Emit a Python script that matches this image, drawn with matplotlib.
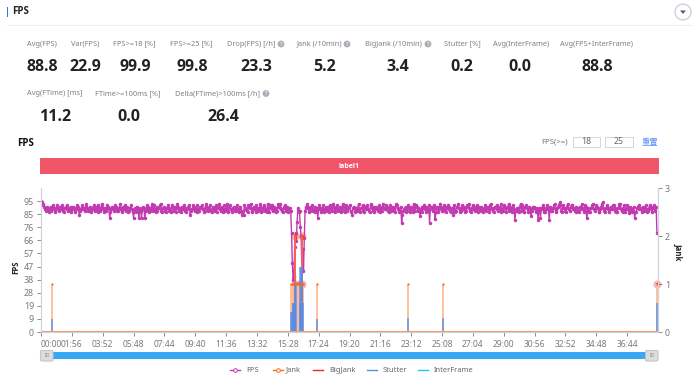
import numpy as np
import matplotlib
matplotlib.use('Agg')
import matplotlib.pyplot as plt
from matplotlib.patches import Rectangle, Circle, FancyBboxPatch, Polygon

plt.rcParams['font.family'] = ['Noto Sans', 'Noto Sans CJK SC', 'DejaVu Sans']
BOLD = ['Open Sans', 'DejaVu Sans']

# kpi rows
row1_names = ['Avg(FPS)', 'Var(FPS)', 'FPS>=18 [%]', 'FPS>=25 [%]', 'Drop(FPS) [/h]', 'Jank (/10min)',
              'BigJank (/10min)', 'Stutter [%]', 'Avg(InterFrame)', 'Avg(FPS+InterFrame)']
row1_values = ['88.8', '22.9', '99.9', '99.8', '23.3', '5.2', '3.4', '0.2', '0.0', '88.8']
row2_names = ['Avg(FTime) [ms]', 'FTime>=100ms [%]', 'Delta(FTime)>100ms [/h]']
row2_values = ['11.2', '0.0', '26.4']

# fps, one sample every 3 s
fps = [95,94,93,92,91,89,88,90,91,89,87,90,91,88,89,92,90,88,87,90,92,89,90,88,91,89,92,90,88,87,90,91,89,92,88,90,89,91,87,89,
       91,90,88,87,90,92,91,89,85,88,89,91,92,89,90,88,91,93,90,88,89,91,88,87,90,89,92,90,88,91,89,87,92,90,88,89,93,91,90,87,
       90,89,88,92,91,90,83,87,89,91,90,88,89,92,91,88,90,88,89,93,90,87,88,91,89,92,90,88,91,87,88,90,90,92,89,87,83,88,90,87,
       91,89,88,83,90,88,83,89,91,90,83,88,89,92,91,87,88,90,89,93,90,88,92,89,87,91,88,90,90,92,93,88,87,90,91,89,88,87,90,92,
       90,88,89,87,92,91,88,90,91,87,90,93,91,88,88,90,87,91,89,92,90,88,87,89,91,90,92,85,88,89,90,92,91,88,90,87,92,89,88,91,
       90,91,92,89,87,88,90,93,91,88,89,90,92,88,87,90,91,89,88,92,87,91,90,93,89,88,91,90,87,92,88,89,90,93,87,88,91,92,89,87,
       89,90,91,88,88,90,92,89,87,91,90,88,85,88,85,92,89,90,88,87,92,91,90,93,88,87,90,91,89,87,92,90,88,89,91,93,87,88,90,92,
       91,88,89,87,93,90,87,92,90,89,92,88,91,89,87,90,88,93,91,90,93,89,88,87,90,91,92,88,91,89,87,90,90,88,72,50,38,41,62,72,
       66,80,90,87,88,76,70,44,60,44,68,88,91,90,93,91,87,88,91,90,92,88,89,91,87,88,90,83,89,92,90,87,90,88,92,87,89,91,88,90,
       91,87,92,89,90,88,93,91,87,89,90,92,88,90,89,91,87,88,93,90,91,87,92,89,88,90,91,92,87,88,85,90,91,89,87,90,88,90,93,88,
       87,90,90,92,88,87,91,89,92,90,89,88,87,92,93,90,88,91,87,89,91,90,89,88,92,87,90,88,91,93,90,89,89,92,91,88,87,90,92,88,
       89,91,88,90,87,93,92,89,90,87,88,91,79,85,88,89,90,91,87,88,92,90,89,87,91,90,87,93,90,88,92,91,88,90,89,84,88,91,87,90,
       92,89,91,87,90,88,92,79,89,91,90,88,92,90,82,87,91,90,87,89,93,91,90,88,88,92,89,91,87,90,92,89,91,88,87,90,90,85,92,87,
       88,91,91,93,90,87,88,90,92,89,91,87,90,88,92,91,93,90,88,87,90,92,89,91,88,89,92,90,87,91,89,88,91,90,87,89,90,92,88,90,
       91,89,87,92,93,89,90,88,87,91,90,92,89,88,91,90,87,93,89,88,92,90,91,87,90,90,93,88,91,89,87,90,92,89,81,88,88,90,90,87,
       91,93,88,92,90,87,87,91,92,90,89,87,91,90,84,88,89,91,91,90,87,89,90,81,88,90,83,89,90,92,87,90,87,89,92,90,89,81,91,88,
       88,90,90,92,93,88,87,90,91,92,94,92,88,87,92,90,90,88,87,91,93,90,89,88,91,92,92,89,90,88,87,91,90,88,87,91,91,89,93,90,
       88,87,92,91,83,88,90,87,87,90,91,92,93,89,88,90,92,91,90,87,87,89,91,93,94,90,88,87,90,91,92,89,87,90,91,89,89,92,92,88,
       90,87,87,90,91,93,93,89,88,87,90,92,87,89,92,91,89,86,91,88,90,87,88,91,83,87,87,90,91,92,89,90,89,87,91,90,88,90,92,89,
       87,88,90,92,91,89,87,90,92,88,90,91,72]
fps_step = 3

# events, seconds from start, jank axis units
jank_t = [41, 940, 943, 946, 949, 952, 955, 963, 966, 969, 972, 975, 978, 981, 984, 987, 1038, 1380, 1511, 2318]
jank_v = [1, 1, 1, 1, 1, 1, 2, 1, 1, 1, 1, 1, 1, 2, 1, 1, 1, 1, 1, 1]
bigjank_t = [955, 981]
bigjank_v = [2, 2]
stutter_t = [41, 940, 943, 946, 949, 952, 955, 958, 972, 975, 978, 981, 984, 1038, 1380, 1511, 2318]
stutter_v = [0.27, 0.42, 0.42, 0.6, 0.6, 0.6, 1.0, 1.0, 0.6, 1.35, 1.35, 1.35, 0.6, 0.27, 0.3, 0.3, 0.6]
emph_t = [955, 955, 970, 981, 981, 2318]
emph_v = [2, 1, 1, 1, 2, 1]

x_ticks = [0, 116, 232, 348, 464, 580, 696, 812, 928, 1044, 1160, 1276, 1392, 1508, 1624, 1740, 1856, 1972, 2088, 2204]
x_labels = ['00:00', '01:56', '03:52', '05:48', '07:44', '09:40', '11:36', '13:32', '15:28', '17:24',
            '19:20', '21:16', '23:12', '25:08', '27:04', '29:00', '30:56', '32:52', '34:48', '36:44']
y_ticks = [0, 9.5, 19, 28.5, 38, 47.5, 57, 66.5, 76, 85.5, 95]
y_labels = ['0', '9', '19', '28', '38', '47', '57', '66', '76', '85', '95']

legend_names = ['FPS', 'Jank', 'BigJank', 'Stutter', 'InterFrame']

C_FPS = '#c23ab0'
C_JANK = '#ff6a1a'
C_BIG = '#e8262d'
C_STUT = '#4f8ff0'
C_INTER = '#1fc8e8'
C_LAB = '#808080'
C_TICK = '#7a7a7a'
C_AXIS = '#ccd4e0'

W, H = 700, 377
fig = plt.figure(figsize=(7, 3.77), dpi=100)

# page furniture in pixel coords
bg = fig.add_axes([0, 0, 1, 1])
bg.set_xlim(0, W)
bg.set_ylim(H, 0)
bg.axis('off')

bg.add_patch(Rectangle((6.5, 7), 1.3, 9.5, color='#3b6ff0', lw=0))
bg.text(12, 12, 'FPS', fontsize=7, fontweight='bold', family=BOLD, color='#222222', va='center')
bg.plot([7, 691], [25, 25], color='#eeeeee', lw=0.8)
bg.add_patch(Circle((683, 12), 8, fc='white', ec='#c4c6d4', lw=0.8))
bg.add_patch(Polygon([[680, 10.5], [686, 10.5], [683, 13.8]], color='#555566', lw=0))

row1_label_x = [27, 71, 113, 170, 227, 297, 365, 444, 493, 560]
row1_value_x = [42, 85, 135, 192, 256, 325, 398, 462, 520, 597]
for name, val, lx, vx in zip(row1_names, row1_values, row1_label_x, row1_value_x):
    bg.text(lx, 44, name, fontsize=5.3, color=C_LAB, va='center')
    bg.text(vx, 67, val, fontsize=11.5, fontweight='bold', family=BOLD, color='#222222', va='center', ha='center')

row2_label_x = [27, 95, 175]
row2_value_x = [55, 129, 223]
for name, val, lx, vx in zip(row2_names, row2_values, row2_label_x, row2_value_x):
    bg.text(lx, 93.5, name, fontsize=5.3, color=C_LAB, va='center')
    bg.text(vx, 117, val, fontsize=11.5, fontweight='bold', family=BOLD, color='#222222', va='center', ha='center')

for hx, hy in [(281, 44), (347, 44), (428, 44), (266, 93.5)]:
    bg.add_patch(Circle((hx, hy), 3.4, color='#a9afb8', lw=0))
    bg.text(hx, hy, '?', fontsize=4.2, fontweight='bold', color='white', ha='center', va='center')

bg.text(17, 144, 'FPS', fontsize=7, fontweight='bold', family=BOLD, color='#111111', va='center')
bg.text(541, 142, 'FPS(>=)', fontsize=5.6, color='#777777', va='center')
for bx, bw, txt in [(573, 27, '18'), (605, 28, '25')]:
    bg.add_patch(Rectangle((bx, 136.5), bw, 10, fc='white', ec='#d3d6dc', lw=0.7))
    bg.text(bx + bw / 2, 142, txt, fontsize=6.3, color='#666666', ha='center', va='center')
bg.text(650, 142, '重置', fontsize=6, color='#5b8ff9', ha='center', va='center')

bg.add_patch(Rectangle((40, 158), 618.5, 16, color='#f05667', lw=0))
bg.text(349, 166, 'label1', fontsize=5, color='white', ha='center', va='center', fontweight='bold', family=BOLD)

bg.text(16, 267, 'FPS', fontsize=5.6, fontweight='bold', family=BOLD, color='#222222', rotation=90, ha='center', va='center')
bg.text(678, 252, 'Jank', fontsize=5.6, fontweight='bold', family=BOLD, color='#222222', rotation=270, ha='center', va='center')

# slider
bg.add_patch(Rectangle((41, 351.5), 617, 7.5, color='#38a8f5', lw=0))
for sx in [41, 646]:
    bg.add_patch(FancyBboxPatch((sx, 351), 11.5, 9.5, boxstyle='round,pad=0.6,rounding_size=1.5',
                                fc='#dcdcdc', ec='#bdbdbd', lw=0.6))
    bg.text(sx + 6, 355.8, 'III', fontsize=3.5, color='#888888', ha='center', va='center')

# legend
leg_line_x = [230, 273, 313, 367, 418]
leg_text_x = [246, 286, 329, 383, 434]
leg_cols = [C_FPS, C_JANK, C_BIG, C_STUT, C_INTER]
for name, lx, tx, col in zip(legend_names, leg_line_x, leg_text_x, leg_cols):
    bg.plot([lx, lx + 10], [370, 370], color=col, lw=1)
    if name in ('FPS', 'Jank'):
        bg.plot(lx + 5, 370, 'o', ms=2.6, mfc='white', mec=col, mew=0.7)
    bg.text(tx, 370, name, fontsize=5.4, color='#666666', va='center')

# chart
ax = fig.add_axes([41 / W, (H - 332) / H, 617 / W, 144 / H], facecolor='none')
ax2 = ax.twinx()
ax.set_xlim(0, 2320)
ax.set_ylim(0, 104.5)
ax2.set_ylim(0, 3)
ax.set_zorder(3)

ax.set_xticks(x_ticks)
ax.set_xticklabels(x_labels)
ax.set_yticks(y_ticks)
ax.set_yticklabels(y_labels)
ax2.set_yticks([0, 1, 2, 3])
ax.tick_params(axis='x', labelsize=6.1, colors=C_TICK, length=3, width=0.6, pad=3)
ax.tick_params(axis='y', labelsize=6.4, colors=C_TICK, length=3, width=0.6, pad=2)
ax2.tick_params(axis='y', labelsize=6.4, colors=C_TICK, length=3, width=0.6, pad=2)
ax.get_xticklabels()[0].set_ha('left')
for a in (ax, ax2):
    a.spines['top'].set_visible(False)
    a.spines['left'].set_color(C_AXIS)
    a.spines['right'].set_color(C_AXIS)
    a.spines['bottom'].set_color(C_AXIS)

fps_t = np.arange(len(fps)) * fps_step
ax2.vlines(jank_t, 0, jank_v, color='#ffbb94', lw=1.3)
ax2.vlines(bigjank_t, 0, bigjank_v, color='#ef4b4b', lw=1.1)
ax2.vlines(stutter_t, 0, stutter_v, color=C_STUT, lw=1.3, alpha=0.75)
ax2.axhline(0, color='#f59a63', lw=1.5)
ax2.plot(jank_t, jank_v, 'o', color=C_JANK, ms=1.6, mew=0)

ax.plot(fps_t, fps, '-o', color=C_FPS, lw=1.0, ms=2.5, mew=0)
ax2.set_zorder(4)
ax2.patch.set_visible(False)
ax2.scatter(emph_t, emph_v, s=34, color='#f04a4a', alpha=0.4, lw=0, clip_on=False)
ax2.scatter(emph_t, emph_v, s=5, color='#e8262d', lw=0, clip_on=False)

plt.savefig('out.png', dpi=100)
